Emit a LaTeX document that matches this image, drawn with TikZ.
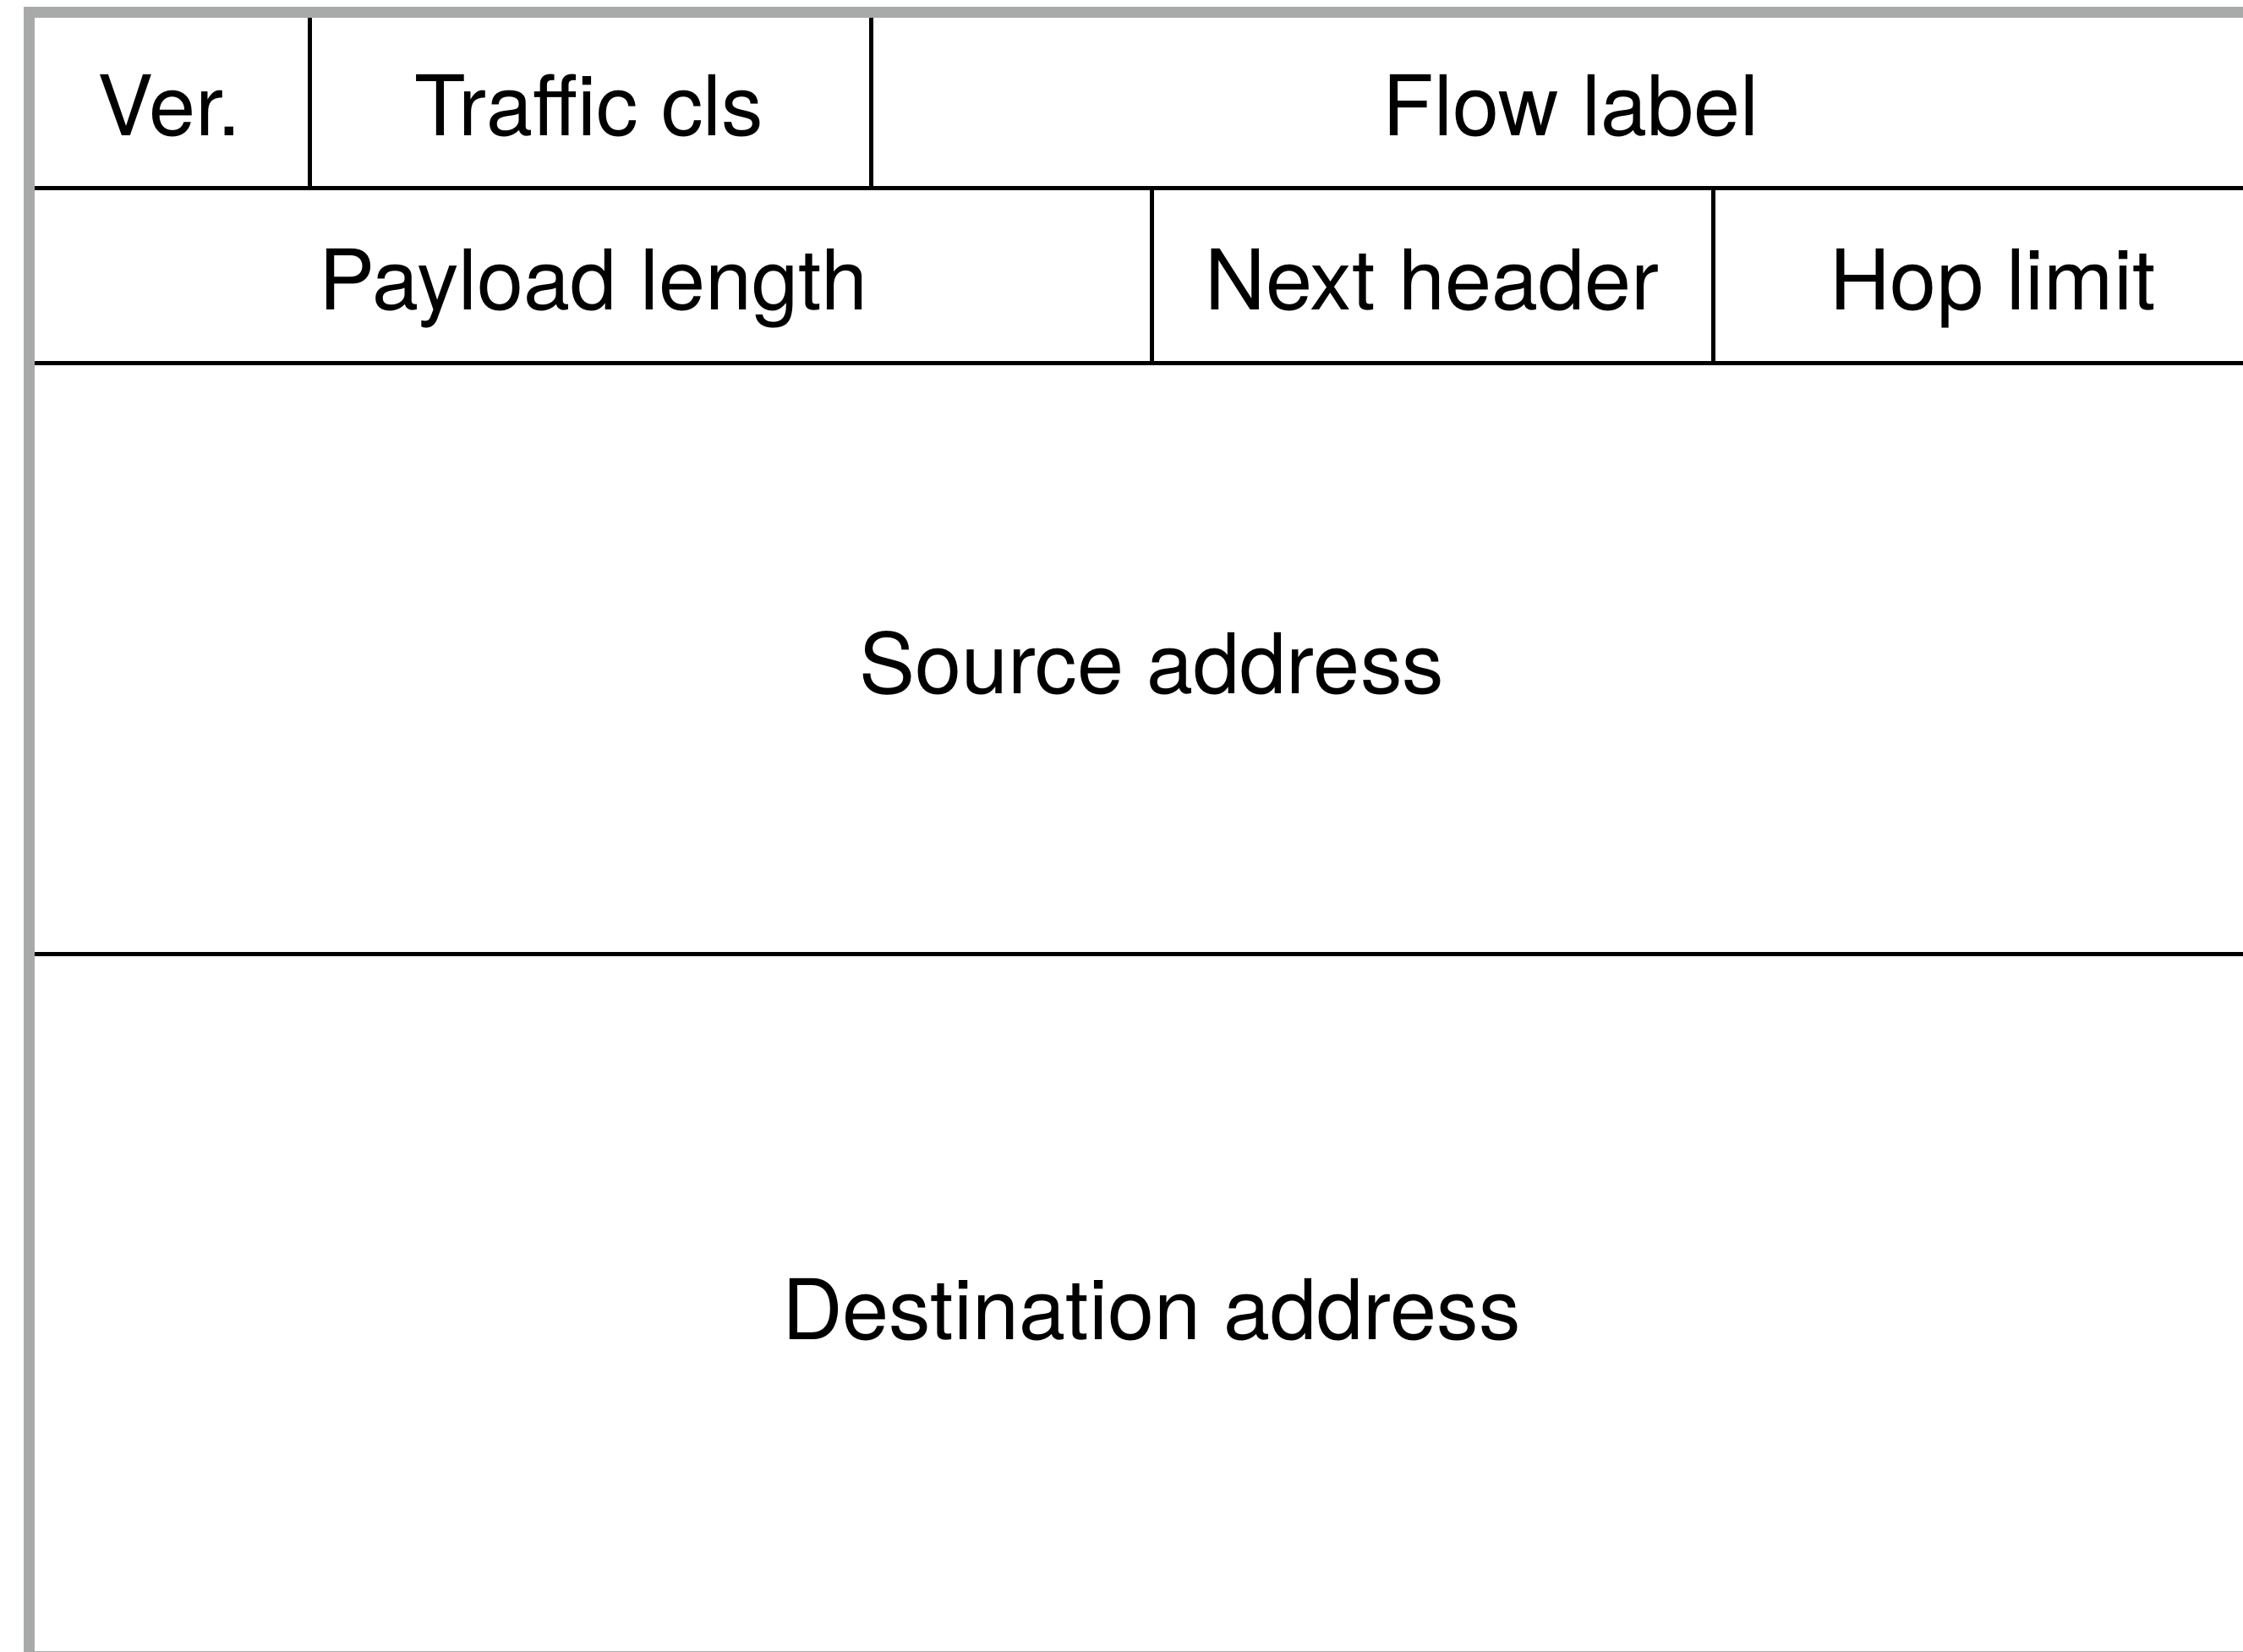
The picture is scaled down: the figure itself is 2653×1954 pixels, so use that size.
\documentclass[tikz,border=0pt]{standalone}
\usepackage{fontspec}
\setmainfont{TeX Gyre Heros}
\definecolor{frame}{HTML}{A7AAA8}
\tikzset{
  fieldtext/.style={anchor=base,inner sep=0pt,outer sep=0pt,font=\fontsize{19.8pt}{24pt}\selectfont},
  rule/.style={line width=1pt,black},
  frameline/.style={line width=2.6pt,frame}
}
\begin{document}
\begin{tikzpicture}[x=0.2pt,y=-0.2pt]
\useasboundingbox (0,0) rectangle (2653,1954);
\clip (0,0) rectangle (2653,1954);
\fill[white] (0,0) rectangle (2653,1954);
% outer frame
\draw[frameline] (34.5,2100) -- (34.5,14.8) -- (2800,14.8);
\draw[frameline] (34.5,1959) -- (2800,1959);
% horizontal rules
\draw[rule] (41,222.5) -- (2700,222.5);
\draw[rule] (41,430) -- (2700,430);
\draw[rule] (41,1129) -- (2700,1129);
% vertical rules
\draw[rule] (366.5,21) -- (366.5,222.5);
\draw[rule] (1030.5,21) -- (1030.5,222.5);
\draw[rule] (1362.5,222.5) -- (1362.5,430);
\draw[rule] (2026,222.5) -- (2026,430);
% labels
\node[fieldtext] (ver) at (200,161) {Ver.};
\node[fieldtext] (tc) at (697,161) {Traffic cls};
\node[fieldtext] (fl) at (1858,161) {Flow label};
\node[fieldtext] (pl) at (702,367) {Payload length};
\node[fieldtext] (nh) at (1694,367) {Next header};
\node[fieldtext] (hl) at (2357,367) {Hop limit};
\node[fieldtext] (src) at (1362,821) {Source address};
\node[fieldtext] (dst) at (1362,1584) {Destination address};
\end{tikzpicture}
\end{document}
